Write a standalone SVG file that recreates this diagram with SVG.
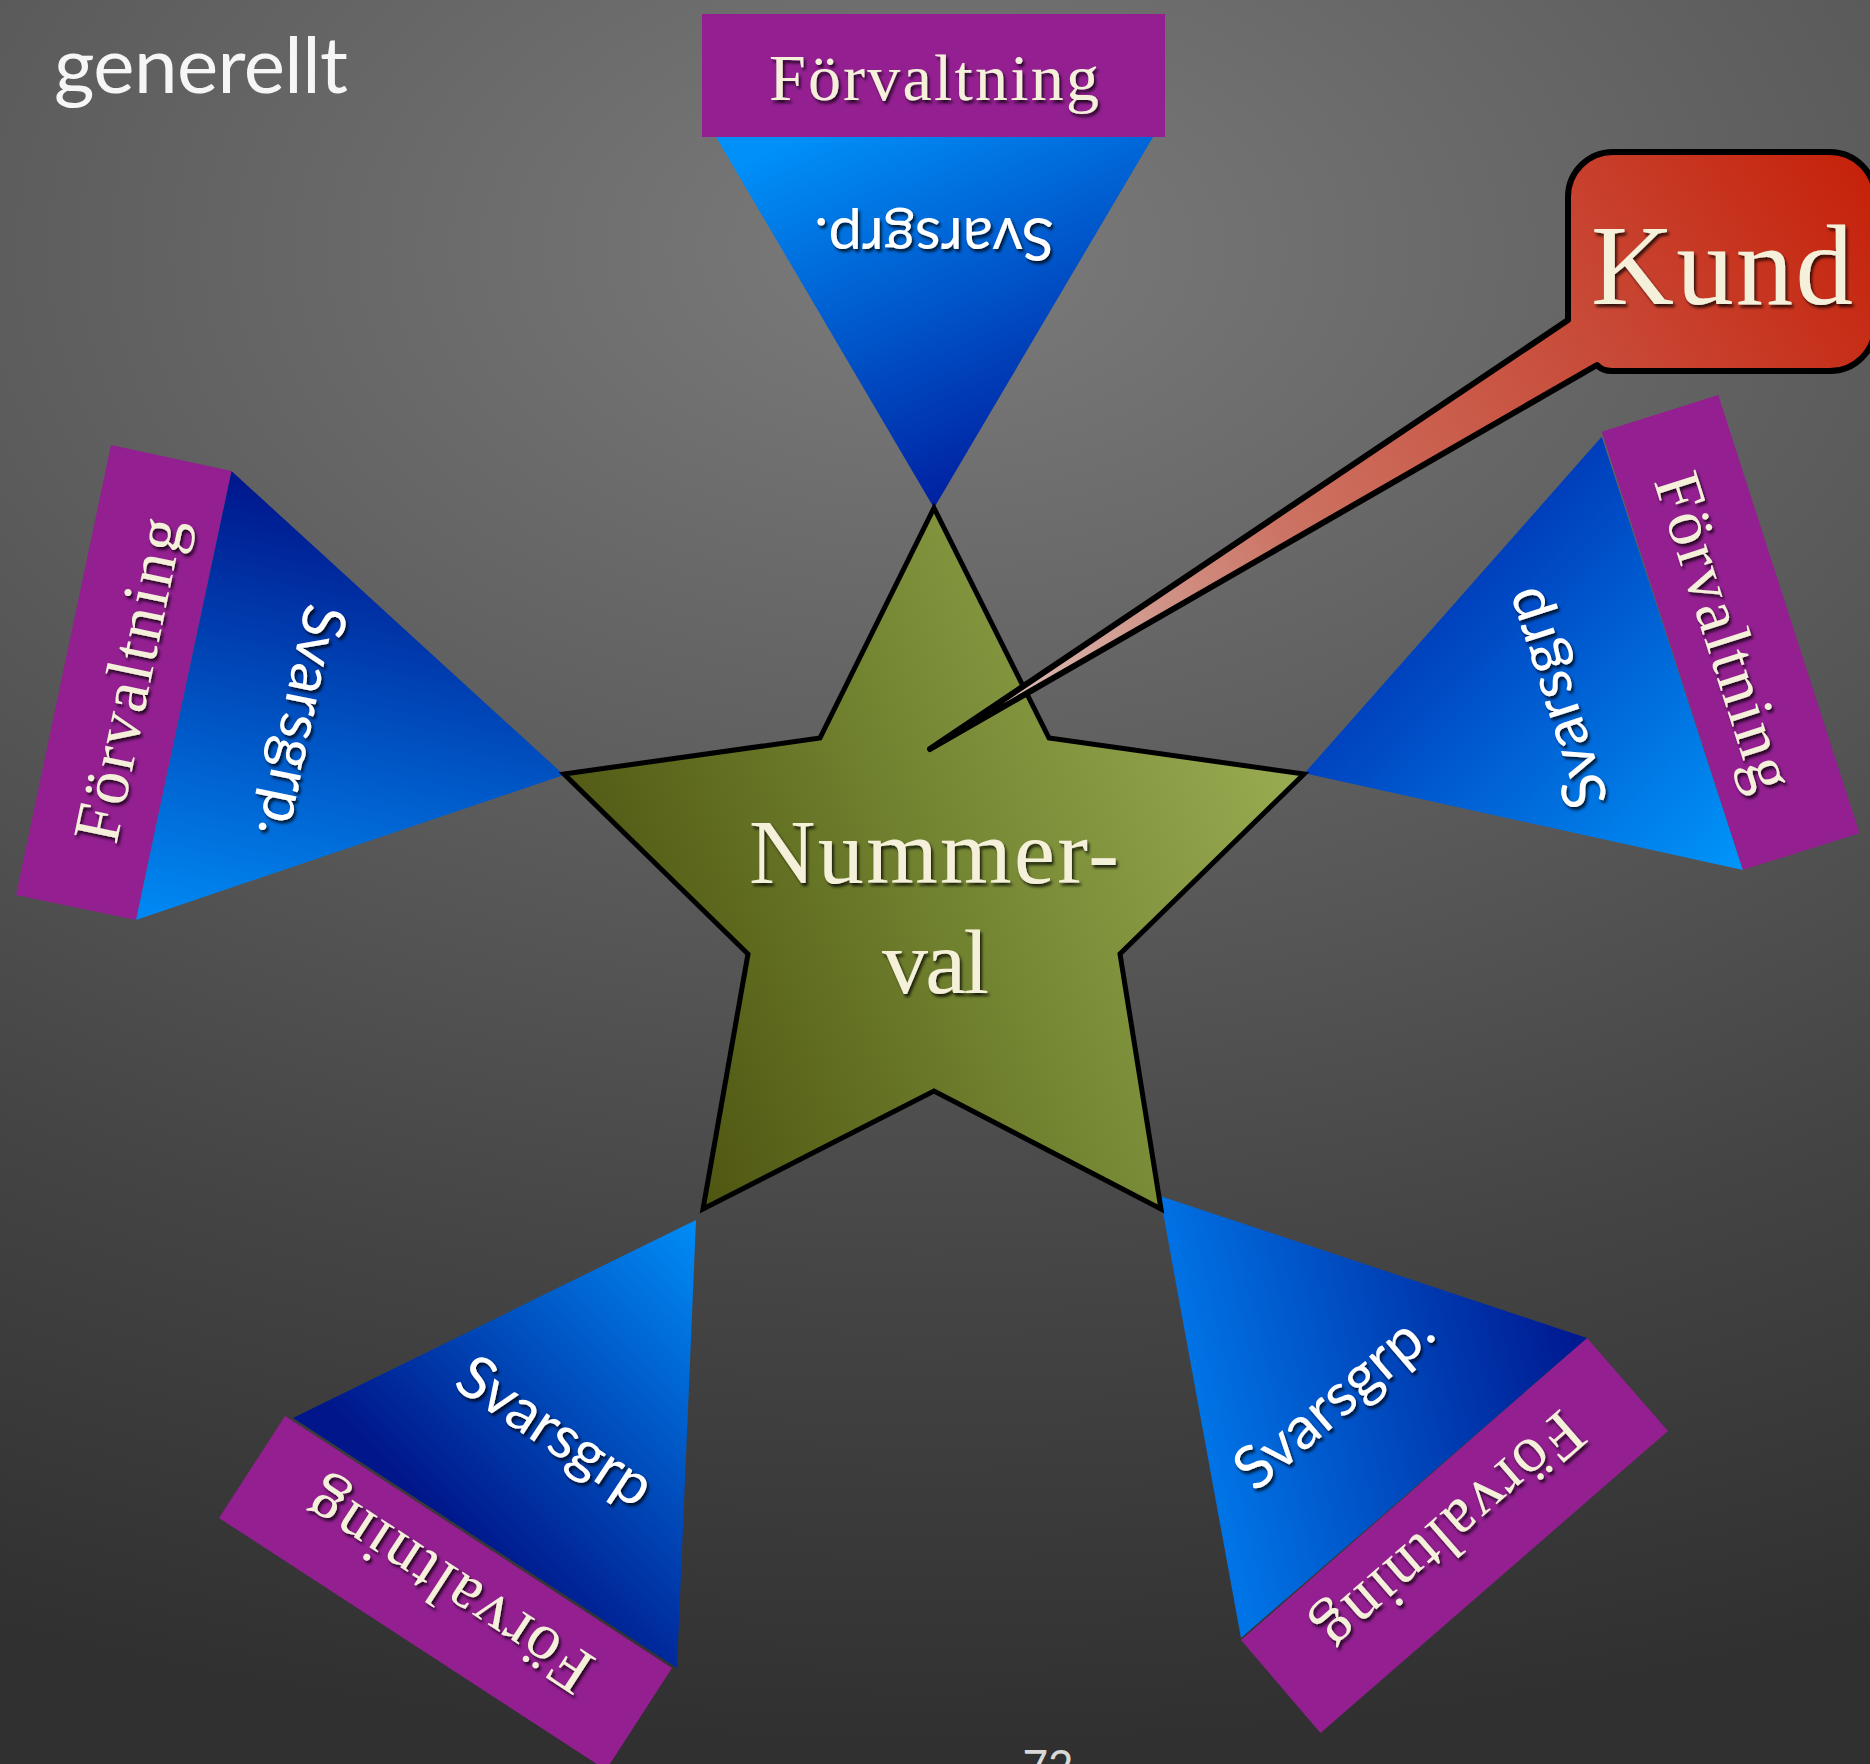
<svg xmlns="http://www.w3.org/2000/svg" width="1870" height="1764" viewBox="0 0 1870 1764">
<defs>
  <radialGradient id="bg" gradientUnits="userSpaceOnUse" cx="0" cy="0" r="1500" gradientTransform="translate(930,250) scale(1.6,1)">
    <stop offset="0" stop-color="#7b7b7b"/>
    <stop offset="0.4" stop-color="#5c5c5c"/>
    <stop offset="0.7" stop-color="#444444"/>
    <stop offset="1" stop-color="#303030"/>
  </radialGradient>
  <linearGradient id="gStar" gradientUnits="userSpaceOnUse" x1="600" y1="1000" x2="1300" y2="700">
    <stop offset="0" stop-color="#4e5410"/>
    <stop offset="0.5" stop-color="#748632"/>
    <stop offset="1" stop-color="#9caf54"/>
  </linearGradient>
  <linearGradient id="gKund" gradientUnits="userSpaceOnUse" x1="1870" y1="152" x2="930" y2="749">
    <stop offset="0" stop-color="#c62008"/>
    <stop offset="0.3" stop-color="#c84a38"/>
    <stop offset="0.62" stop-color="#cc7262"/>
    <stop offset="0.76" stop-color="#d09488"/>
    <stop offset="0.89" stop-color="#d8b4ac"/>
    <stop offset="1" stop-color="#e8d4cc"/>
  </linearGradient>
  <linearGradient id="gT" gradientUnits="userSpaceOnUse" x1="800" y1="137" x2="960" y2="500">
    <stop offset="0" stop-color="#0090f8"/>
    <stop offset="1" stop-color="#0020a0"/>
  </linearGradient>
  <linearGradient id="gL" gradientUnits="userSpaceOnUse" x1="230" y1="480" x2="140" y2="910">
    <stop offset="0" stop-color="#00188e"/>
    <stop offset="1" stop-color="#0088f2"/>
  </linearGradient>
  <linearGradient id="gR" gradientUnits="userSpaceOnUse" x1="1430" y1="560" x2="1742" y2="870">
    <stop offset="0" stop-color="#0036b6"/>
    <stop offset="1" stop-color="#0096fa"/>
  </linearGradient>
  <linearGradient id="gBL" gradientUnits="userSpaceOnUse" x1="696" y1="1225" x2="420" y2="1500">
    <stop offset="0" stop-color="#008cf6"/>
    <stop offset="1" stop-color="#00168a"/>
  </linearGradient>
  <linearGradient id="gBR" gradientUnits="userSpaceOnUse" x1="1200" y1="1420" x2="1580" y2="1330">
    <stop offset="0" stop-color="#0074e6"/>
    <stop offset="1" stop-color="#001890"/>
  </linearGradient>
  <filter id="sh" x="-20%" y="-20%" width="140%" height="140%">
    <feDropShadow dx="2" dy="3" stdDeviation="1.5" flood-color="#000" flood-opacity="0.75"/>
  </filter>
</defs>
<style>
  .band{fill:#931f91}
  .fv{font-family:"Liberation Serif","DejaVu Serif",serif;font-size:66px;fill:#f5f0da;text-anchor:middle}
  .sg{font-family:Lato,"Liberation Sans",sans-serif;font-size:60px;fill:#ffffff;text-anchor:middle}
  .big{font-family:"Liberation Serif","DejaVu Serif",serif;fill:#f5f0da;text-anchor:middle}
</style>

<rect id="background" x="0" y="0" width="1870" height="1764" fill="url(#bg)"/>

<g id="title">
  <text x="54" y="93" font-family="Lato,'Liberation Sans',sans-serif" font-size="78" fill="#f6f6f6" textLength="294">generellt</text>
</g>

<g id="petal-top">
  <rect class="band" x="702" y="14" width="463" height="123"/>
  <polygon points="716,137 1153,137 934,508" fill="url(#gT)"/>
  <g filter="url(#sh)"><text class="fv" x="934" y="100" textLength="330">Förvaltning</text></g>
  <g filter="url(#sh)"><text class="sg" transform="translate(934,218) rotate(180)" textLength="240">Svarsgrp.</text></g>
</g>

<g id="petal-left">
  <polygon class="band" points="111,445 231.5,471 136,920 16,895"/>
  <polygon points="231.5,471 564,775 136,920" fill="url(#gL)"/>
  <g filter="url(#sh)"><text class="fv" transform="translate(150,684) rotate(-78.2)" textLength="330">Förvaltning</text></g>
  <g filter="url(#sh)"><text class="sg" transform="translate(282,717) rotate(101.8)" textLength="236">Svarsgrp.</text></g>
</g>

<g id="petal-right">
  <polygon class="band" points="1601.7,431.7 1718.3,395 1859.4,833.3 1742.8,870"/>
  <polygon points="1601.7,436.7 1304.5,773.3 1742.8,870" fill="url(#gR)"/>
  <g filter="url(#sh)"><text class="fv" transform="translate(1704,638) rotate(72.2)" textLength="330">Förvaltning</text></g>
  <g filter="url(#sh)"><text class="sg" transform="translate(1574,692) rotate(252.2)" textLength="228">Svarsgrp</text></g>
</g>

<g id="petal-bottom-left">
  <polygon class="band" points="285,1416 672,1668 606,1770 219,1518"/>
  <polygon points="696,1220 293,1418 677,1668" fill="url(#gBL)"/>
  <g filter="url(#sh)"><text class="fv" transform="translate(460,1570) rotate(213.1)" textLength="330">Förvaltning</text></g>
  <g filter="url(#sh)"><text class="sg" transform="translate(544,1448) rotate(33.5)" textLength="222">Svarsgrp</text></g>
</g>

<g id="petal-bottom-right">
  <polygon class="band" points="1587,1338 1668,1431 1320.5,1733 1241,1640"/>
  <polygon points="1160,1196 1587,1338 1241,1638" fill="url(#gBR)"/>
  <g filter="url(#sh)"><text class="fv" transform="translate(1437,1516) rotate(138.9)" textLength="330">Förvaltning</text></g>
  <g filter="url(#sh)"><text class="sg" transform="translate(1347,1415) rotate(-40.5)" textLength="241">Svarsgrp.</text></g>
</g>

<g id="star">
  <path d="M934,508 L1049,738 L1304,774 L1120,954 L1161,1209 L934,1091 L703,1209 L748,954 L564,774 L820,738 Z" fill="url(#gStar)" stroke="#000" stroke-width="5" stroke-linejoin="miter"/>
  <g filter="url(#sh)">
    <text class="big" x="934" y="883" font-size="92" textLength="370">Nummer-</text>
    <text class="big" x="935.5" y="993" font-size="92" textLength="107">val</text>
  </g>
</g>

<g id="connectors"></g>

<g id="kund">
  <path d="M1613,152 H1830 A45,45 0 0 1 1875,197 V326 A45,45 0 0 1 1830,371 H1612 Q1602,371 1597,365 L930,749 L1568,320 V197 A45,45 0 0 1 1613,152 Z" fill="url(#gKund)" stroke="#000" stroke-width="6" stroke-linejoin="round"/>
  <g filter="url(#sh)"><text class="big" x="1722" y="304" font-size="115" textLength="262">Kund</text></g>
</g>

<g id="page-number">
  <text x="1048" y="1782" font-family="Lato,'Liberation Sans',sans-serif" font-size="44" fill="#d8d8d8" text-anchor="middle">72</text>
</g>
</svg>
